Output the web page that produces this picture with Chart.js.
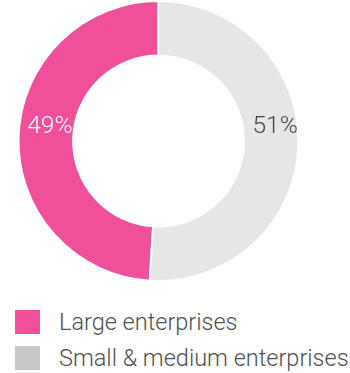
<!DOCTYPE html>
<html>
<head>
<meta charset="utf-8">
<script src="https://cdn.jsdelivr.net/npm/chart.js@4"></script>
<style>
  html, body { margin: 0; padding: 0; background: #fff; }
  #wrap { position: relative; width: 350px; height: 282px; }
  #legend { margin: 22px 0 0 15px; padding: 0; list-style: none; font-family: Roboto, sans-serif; font-weight: 300; font-size: 23.5px; color: #505050; }
  #legend li { display: flex; align-items: center; height: 36px; }
  #legend span.box { display: inline-block; width: 25px; height: 24px; margin-right: 19px; }
</style>
</head>
<body>
<div id="wrap"><canvas id="myChart"></canvas></div>
<ul id="legend"></ul>
<script>
// data
const labels = ['Large enterprises', 'Small & medium enterprises'];
const values = [49, 51];
const sliceColors = ['#F0509A', '#E6E6E6'];
const legendColors = ['#F0509A', '#C8C8CA'];
const labelColors = ['#ffffff', '#444444'];

// label di tengah cincin
const sliceLabels = {
  id: 'sliceLabels',
  afterDatasetsDraw(chart) {
    const ctx = chart.ctx;
    const meta = chart.getDatasetMeta(0);
    const total = values.reduce((a, b) => a + b, 0);
    ctx.save();
    ctx.font = '300 24.5px Roboto, sans-serif';
    ctx.textAlign = 'center';
    ctx.textBaseline = 'alphabetic';
    meta.data.forEach((arc, i) => {
      const pos = arc.tooltipPosition();
      const pct = Math.round(values[i] / total * 100) + '%';
      ctx.fillStyle = labelColors[i];
      ctx.fillText(pct, pos.x + 4, arc.y - 8);
    });
    ctx.restore();
  }
};

const ctx = document.getElementById('myChart').getContext('2d');
const myChart = new Chart(ctx, {
  type: 'doughnut',
  data: {
    labels: labels,
    datasets: [{
      data: values,
      backgroundColor: sliceColors,
      borderColor: '#ffffff',
      borderWidth: 2
    }]
  },
  options: {
    responsive: true,
    maintainAspectRatio: false,
    animation: false,
    cutout: '61%',
    rotation: -values[0] / (values[0] + values[1]) * 360,
    layout: { padding: { left: 17, right: 50, top: -2, bottom: 0 } },
    plugins: {
      legend: { display: false },
      tooltip: { enabled: false }
    }
  },
  plugins: [sliceLabels]
});

// legend
labels.forEach((name, i) => {
  const li = document.createElement('li');
  li.innerHTML = '<span class="box" style="background:' + legendColors[i] + '"></span>' + name;
  document.getElementById('legend').appendChild(li);
});
</script>
</body>
</html>
